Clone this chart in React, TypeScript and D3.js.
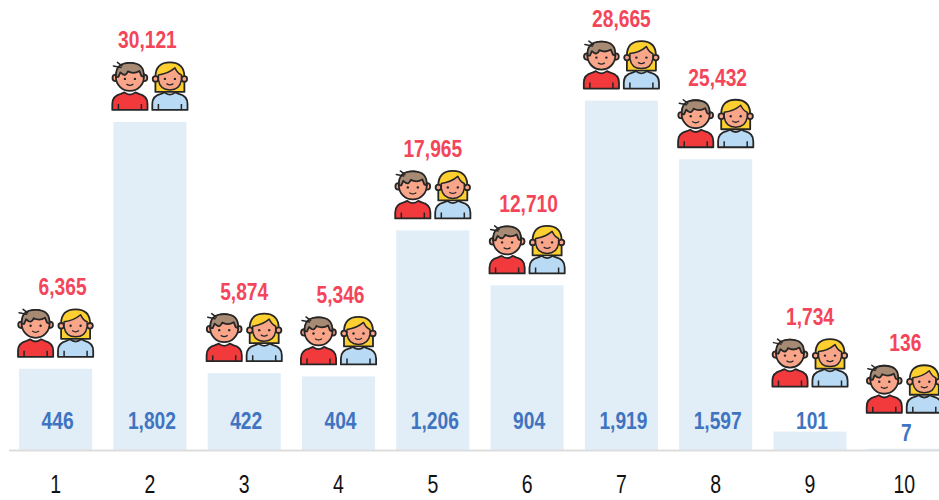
import React from "react";
import * as d3 from "d3";

const categories = ["1", "2", "3", "4", "5", "6", "7", "8", "9", "10"];
const topValues = [6365, 30121, 5874, 5346, 17965, 12710, 28665, 25432, 1734, 136];
const barValues = [446, 1802, 422, 404, 1206, 904, 1919, 1597, 101, 7];

const W = 939;
const H = 500;
const BASE = 450;
const FONT = "'Liberation Sans', sans-serif";

const x = d3.scaleBand<string>().domain(categories).range([19.1, 940.8]).paddingInner(0.2258).paddingOuter(0);
const y = d3.scaleLinear().domain([0, 1919]).range([BASE, 100.6]);
const fmt = d3.format(",");

const INK = "#262626";
const SKIN = "#f9a58a";
const SW = 1.8;

function Body({ fill }: { fill: string }) {
  return (
    <g>
      <path
        d="M-17.6,48 L-17.6,42 Q-17.6,34 -9,32 L-5.5,30.5 Q0,35 5.5,30.5 L9,32 Q17.6,34 17.6,42 L17.6,48 Z"
        fill={fill}
        stroke={INK}
        strokeWidth={SW}
        strokeLinejoin="round"
      />
      <path d="M-11.5,48 L-11.5,42 M11.5,48 L11.5,42" stroke={INK} strokeWidth={1.5} />
    </g>
  );
}

function Boy() {
  return (
    <g>
      <Body fill="#f2393c" />
      <circle cx={-14.2} cy={16} r={3.2} fill={SKIN} stroke={INK} strokeWidth={SW} />
      <circle cx={14.2} cy={16} r={3.2} fill={SKIN} stroke={INK} strokeWidth={SW} />
      <circle cx={0} cy={15} r={14} fill={SKIN} stroke={INK} strokeWidth={SW} />
      <path
        d="M-13.8,15 Q-15,1 0,1 Q15,1 13.8,15 L11.5,14 L9.5,9 Q4,12.5 -2,9.5 Q-4,14 -7,12.5 L-9.5,10.5 L-11.5,15 Z"
        fill="#a78a73"
        stroke={INK}
        strokeWidth={SW}
        strokeLinejoin="round"
      />
      <path d="M-9,5.5 L-16.5,4 M-8,4 L-12.5,0.5" stroke={INK} strokeWidth={1.5} strokeLinecap="round" />
      <circle cx={-5} cy={17} r={1.2} fill={INK} />
      <circle cx={5} cy={17} r={1.2} fill={INK} />
      <path d="M-3,22.5 Q0,24.5 3,22.5" fill="none" stroke={INK} strokeWidth={1.3} strokeLinecap="round" />
    </g>
  );
}

function Girl() {
  return (
    <g>
      <path
        d="M-14.5,30 L-14.5,15 Q-14.5,0.5 0,0.5 Q14.5,0.5 14.5,15 L14.5,30 Z"
        fill="#fdd02f"
        stroke={INK}
        strokeWidth={SW}
        strokeLinejoin="round"
      />
      <Body fill="#b8daf4" />
      <circle cx={-14.4} cy={17} r={2.8} fill={SKIN} stroke={INK} strokeWidth={SW} />
      <circle cx={14.4} cy={17} r={2.8} fill={SKIN} stroke={INK} strokeWidth={SW} />
      <path
        d="M-11.5,13 Q-2,12 5,6 Q8,12 11.5,13 L11.5,18 Q10,28 0,28 Q-10,28 -11.5,18 Z"
        fill={SKIN}
        stroke={INK}
        strokeWidth={1.5}
        strokeLinejoin="round"
      />
      <circle cx={-5} cy={17} r={1.2} fill={INK} />
      <circle cx={5} cy={17} r={1.2} fill={INK} />
      <path d="M-3,22 Q0,24 3,22" fill="none" stroke={INK} strokeWidth={1.3} strokeLinecap="round" />
    </g>
  );
}

// Distance from the bar top to the icons' lower edge.
const iconGap = (i: number) => (i === 9 ? 35 : i === 8 ? 44 : 11);
// Horizontal nudge of the upper labels, as placed in the original.
const topNudge = [7, -2.5, 0, 2, 0, 1.5, 0, 2, 0, 1];

function Label({ x, y, size = 24, weight = 700, fill, text, sx = 0.8 }: any) {
  return (
    <text transform={`translate(${x},${y}) scale(${sx},1)`} textAnchor="middle" fontSize={size} fontWeight={weight} fill={fill}>
      {text}
    </text>
  );
}

export default function App() {
  return (
    <svg width={W} height={H} style={{ position: "absolute", left: 0, top: 0, background: "#fff" }} fontFamily={FONT}>
      {categories.map((c, i) => {
        const bx = x(c)!;
        const cx = bx + x.bandwidth() / 2;
        const top = y(barValues[i]);
        const iconBottom = top - iconGap(i);
        const iconTop = iconBottom - 49;
        return (
          <g key={c}>
            <rect x={bx} y={top} width={x.bandwidth()} height={BASE - top} fill="#e1edf7" />
            <g transform={`translate(${cx - 20},${iconTop})`}><Boy /></g>
            <g transform={`translate(${cx + 20},${iconTop})`}><Girl /></g>
            <Label x={cx + topNudge[i]} y={iconTop - 13.5} fill="#f4455a" text={fmt(topValues[i])} />
            <Label x={cx + 2} y={i === 9 ? 441 : 429} fill="#3f74c1" text={fmt(barValues[i])} />
            <Label x={cx} y={493} size={25} weight={400} fill="#111" text={c} sx={0.78} />
          </g>
        );
      })}
      <line x1={9} x2={W} y1={450.5} y2={450.5} stroke="#dddddd" strokeWidth={2} />
    </svg>
  );
}
